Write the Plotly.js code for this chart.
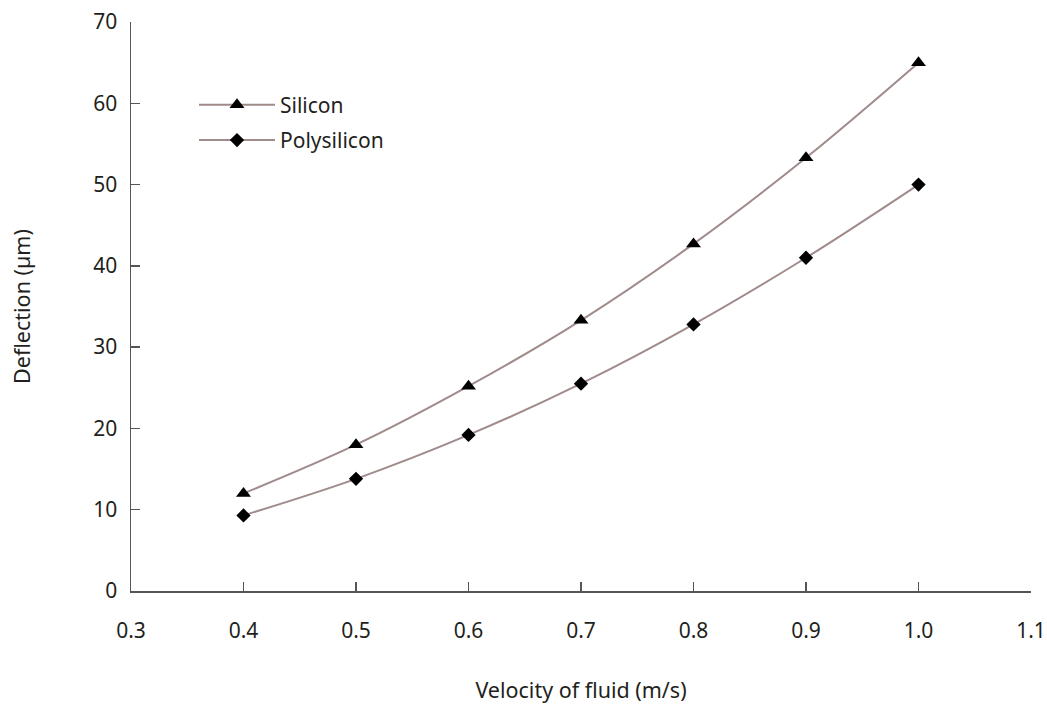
<!DOCTYPE html>
<html><head><meta charset="utf-8">
<script src="https://cdn.plot.ly/plotly-3.0.1.min.js"></script>
<style>body{margin:0;background:#fff}#c{width:1047px;height:706px}</style>
</head><body><div id="c"></div>
<script>
const velocity = [0.4, 0.5, 0.6, 0.7, 0.8, 0.9, 1.0];
const silicon = [12.0, 18.0, 25.2, 33.3, 42.7, 53.3, 65.0];
const polysilicon = [9.3, 13.8, 19.2, 25.5, 32.8, 41.0, 50.0];
const xTicks = [0.3, 0.4, 0.5, 0.6, 0.7, 0.8, 0.9, 1.0, 1.1];
const xTickText = ['0.3','0.4','0.5','0.6','0.7','0.8','0.9','1.0','1.1'];
const yTicks = [0, 10, 20, 30, 40, 50, 60, 70];

const lineColor = '#a08a8a';
const font = {family: 'Noto Sans, Open Sans, sans-serif', size: 21, color: '#231f20'};
const titleFont = {family: 'Noto Sans, Open Sans, sans-serif', size: 21.5, color: '#231f20'};

const traces = [
  {x: velocity, y: silicon, name: 'Silicon', legendgroup: 'a', mode: 'lines+markers', type: 'scatter',
   line: {color: lineColor, width: 2, shape: 'spline'},
   marker: {symbol: 'triangle-up', size: 13, color: '#000'}},
  {x: velocity, y: polysilicon, name: 'Polysilicon', legendgroup: 'b', mode: 'lines+markers', type: 'scatter',
   line: {color: lineColor, width: 2, shape: 'spline'},
   marker: {symbol: 'diamond', size: 11, color: '#000'}}
];

const layout = {
  width: 1047, height: 706,
  margin: {l: 131, r: 16, t: 22, b: 115},
  paper_bgcolor: '#fff', plot_bgcolor: '#fff',
  font: font,
  showlegend: true,
  legend: {x: 0.07, y: 0.89, xanchor: 'left', yanchor: 'top', bgcolor: 'rgba(0,0,0,0)',
           font: font, itemwidth: 76, traceorder: 'grouped', tracegroupgap: 5},
  xaxis: {range: [0.3, 1.1], tickvals: xTicks, ticktext: xTickText,
          ticks: 'inside', ticklen: 9, tickcolor: '#555', tickwidth: 1.5,
          showline: true, linecolor: '#555', linewidth: 1.5, showgrid: false, zeroline: false,
          ticklabelstandoff: 20, ticklabeloverflow: 'allow', tickfont: font,
          title: {text: 'Velocity of fluid (m/s)', font: titleFont, standoff: 40}},
  yaxis: {range: [0, 70], tickvals: yTicks,
          ticks: 'inside', ticklen: 9, tickcolor: '#555', tickwidth: 1.5,
          showline: true, linecolor: '#555', linewidth: 1.5, showgrid: false, zeroline: false,
          ticklabelstandoff: 8, ticklabeloverflow: 'allow', tickfont: font,
          title: {text: 'Deflection (µm)', font: titleFont, standoff: 56}}
};
Plotly.newPlot('c', traces, layout, {displayModeBar: false, staticPlot: true});
</script></body></html>
